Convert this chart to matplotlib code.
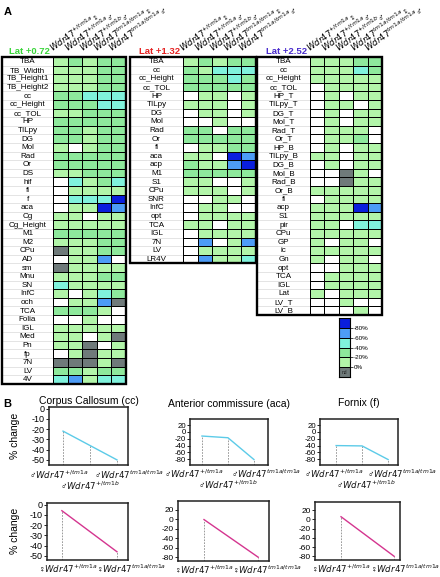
import matplotlib
matplotlib.use('Agg')
import matplotlib.pyplot as plt
from matplotlib.colors import ListedColormap
from matplotlib.patches import Rectangle
import matplotlib.transforms as mtransforms
import numpy as np

plt.rcParams['font.family'] = ['Liberation Sans', 'DejaVu Sans']

# ---- data ----
col_genotypes = ['+/tm1a', '+/tm1a', '+/tm1b', 'tm1a/tm1a', 'tm1a/tm1a']
col_sexes = ['\u2640', '\u2642', '\u2642', '\u2640', '\u2642']

# W = white, L = 0/-20%, G = -20/-40%, C = -40/-60%, B = -60/-80%, D = < -80%, N = nd
rows_072 = ['TBA', 'TB_Width', 'TB_Height1', 'TB_Height2', 'cc', 'cc_Height', 'cc_TOL', 'HP',
            'TILpy', 'DG', 'Mol', 'Rad', 'Or', 'DS', 'hif', 'fi', 'f', 'aca', 'Cg', 'Cg_Height',
            'M1', 'M2', 'CPu', 'AD', 'sm', 'Mnu', 'SN', 'InfC', 'och', 'TCA', 'Folia', 'IGL',
            'Med', 'Pn', 'fp', '7N', 'LV', '4V']
cells_072 = ['LGLGG', 'LLLGG', 'LLLGG', 'LLLGG', 'GGCCC', 'GGGCC', 'LLGGG', 'GGGGG',
             'GGLGG', 'GGLGG', 'LWLGG', 'GGGGG', 'GGGGG', 'LLGGG', 'WCLGC', 'WLLLL', 'WCCCD',
             'WLLDB', 'LLWLL', 'LLLLL', 'GGGGG', 'LLLGG', 'NLLGG', 'WLLBW', 'NLLLL', 'LLLGG',
             'CLLLL', 'LWLCG', 'WLLBN', 'GGGLW', 'WWLWW', 'LLLLL', 'LLWLN', 'LLNWL', 'WLNLL',
             'NNNLN', 'GGLGG', 'CBLCC']

rows_132 = ['TBA', 'cc', 'cc_Height', 'cc_TOL', 'HP', 'TILpy', 'DG', 'Mol', 'Rad', 'Or', 'fi',
            'aca', 'acp', 'M1', 'S1', 'CPu', 'SNR', 'InfC', 'opt', 'TCA', 'IGL', '7N', 'LV', 'LR4V']
cells_132 = ['LGLGG', 'GLCCC', 'GGGCG', 'GGGGG', 'WLLWL', 'LLLWL', 'WLLWL', 'WWLWW', 'GGWGG',
             'GGGGG', 'WLLGG', 'LLWDB', 'GLLBD', 'GGGGG', 'LLWWL', 'LLLWL', 'WWLLW', 'WLLWW',
             'WLLLL', 'LLWLL', 'WLLLL', 'WBWLB', 'WLLLL', 'WBLLC']

rows_252 = ['TBA', 'cc', 'cc_Height', 'cc_TOL', 'HP_T', 'TILpy_T', 'DG_T', 'Mol_T', 'Rad_T',
            'Or_T', 'HP_B', 'TILpy_B', 'DG_B', 'Mol_B', 'Rad_B', 'Or_B', 'fi', 'acp', 'S1', 'pir',
            'CPu', 'GP', 'ic', 'Gn', 'opt', 'TCA', 'IGL', 'Lat', 'LV_T', 'LV_B']
cells_252 = ['LLLGG', 'LLLCG', 'LLLLL', 'WLLLL', 'WLWLL', 'WLLWL', 'WLWLL', 'WLWLL', 'WLLLW',
             'WLLGW', 'WLWLL', 'LLWLL', 'WLWLL', 'WWNLW', 'WWNLL', 'LLLLL', 'WLLLL', 'LLLDB',
             'LLLLL', 'LLWCC', 'LLLLL', 'LWLLW', 'LLLLL', 'LWLLW', 'WWLLL', 'WLLLL', 'WLLLL',
             'LWLLL', 'WWLWW', 'WWWLW']

legend_labels = ['0%', '-20%', '-40%', '-60%', '-80%']

titles_b = ['Corpus Callosum (cc)', 'Anterior commissure (aca)', 'Fornix (f)']
male_genotypes = ['+/tm1a', '+/tm1b', 'tm1a/tm1a']
male_cc = [-22, -36, -50]
male_aca = [-12, -17, -81]
male_f = [-40, -41, -81]
female_genotypes = ['+/tm1a', 'tm1a/tm1a']
female_cc = [-6, -46]
female_aca = [-1, -80]
female_f = [6, -80]

# ---- layout helpers ----
W, H = 440, 577
fig = plt.figure(figsize=(4.4, 5.77), dpi=100)


def box(x0, y0, x1, y1):
    return [x0 / W, 1 - y1 / H, (x1 - x0) / W, (y1 - y0) / H]


codes = {'W': 0, 'L': 1, 'G': 2, 'C': 3, 'B': 4, 'D': 5, 'N': 6}
colors = ['#ffffff', '#b2f5a9', '#8ee99c', '#80f2dc', '#4d9cf6', '#0a1edd', '#6f7a7a']
cmap = ListedColormap(colors)
TOP = 57
ROW = 8.6


def heatmap(x0, xc, x1, rows, cells, title, tcolor):
    n = len(rows)
    y1 = TOP + n * ROW
    ax = fig.add_axes(box(xc, TOP, x1, y1))
    grid = np.array([[codes[c] for c in r] for r in cells])
    ax.pcolormesh(grid, cmap=cmap, vmin=-0.5, vmax=6.5, edgecolors='black', linewidth=0.6)
    ax.set_xlim(0, 5)
    ax.set_ylim(n, 0)
    ax.axis('off')
    lab = fig.add_axes(box(x0, TOP, xc, y1))
    lab.set_xlim(0, 1)
    lab.set_ylim(n, 0)
    lab.hlines(np.arange(1, n), 0, 1, colors='#cfcfcf', lw=0.4)
    for i, r in enumerate(rows):
        lab.text(0.5, i + 0.55, r, ha='center', va='center', fontsize=5.8)
    lab.axis('off')
    fig.patches.append(Rectangle((x0 / W, 1 - y1 / H), (x1 - x0) / W, (y1 - TOP) / H,
                                 transform=fig.transFigure, fill=False, lw=1.7, ec='black'))
    fig.text((xc - 3) / W, 1 - 51 / H, title, color=tcolor, fontsize=6.8, fontweight='bold',
             ha='right', va='center')
    cw = (x1 - xc) / 5
    for j in range(5):
        lbl = r'$\mathit{Wdr47}^{' + col_genotypes[j] + '}$' + col_sexes[j]
        fig.text((xc + (j + 0.1) * cw) / W, 1 - (TOP - 3) / H, lbl, fontsize=6.2,
                 rotation=35, rotation_mode='anchor', ha='left', va='bottom')


fig.text(4 / W, 1 - 12 / H, 'A', fontsize=8, fontweight='bold', va='center')
heatmap(2, 53, 126, rows_072, cells_072, 'Lat +0.72', '#3ad63a')
heatmap(130, 183, 256, rows_132, cells_132, 'Lat +1.32', '#e52222')
heatmap(257, 310, 382, rows_252, cells_252, 'Lat +2.52', '#4a2ccd')

# legend
lax = fig.add_axes(box(339, 318, 350, 377))
lax.pcolormesh(np.array([[6], [1], [2], [3], [4], [5]]), cmap=cmap, vmin=-0.5, vmax=6.5,
               edgecolors='black', linewidth=0.5)
lax.set_xlim(0, 1)
lax.set_ylim(0, 6)
lax.set_xticks([])
lax.yaxis.tick_right()
lax.set_yticks(np.arange(1, 6))
lax.set_yticklabels(legend_labels, fontsize=4.5)
lax.tick_params(axis='y', length=2, width=0.5, pad=1)
for s in lax.spines.values():
    s.set_linewidth(0.8)
lax.text(0.5, 0.5, 'nd', ha='center', va='center', fontsize=3.5, color='#202020')

# ---- panel B ----
fig.text(3 / W, 1 - 404 / H, 'B', fontsize=8, fontweight='bold', va='center')
fig.text(15 / W, 1 - 436 / H, '% change', rotation=90, fontsize=7.5, ha='center', va='center')
fig.text(15 / W, 1 - 531 / H, '% change', rotation=90, fontsize=7.5, ha='center', va='center')


def lineplot(rect, vals, xlim, ylim, yticks, color, labels, sex, offs, rowsy,
             title=None, ty=None, tfs=6.5):
    ax = fig.add_axes(box(*rect))
    xs = np.arange(len(vals))
    ax.vlines(xs, ylim[0], vals, colors='#8a8a8a', linestyles=(0, (2, 1.5)), lw=0.6)
    ax.plot(xs, vals, color=color, lw=1.0)
    ax.set_xlim(*xlim)
    ax.set_ylim(*ylim)
    ax.set_xticks([])
    ax.set_yticks(yticks)
    ax.set_yticklabels([str(t) for t in yticks], fontsize=tfs)
    ax.tick_params(axis='y', length=2, width=0.6, pad=1)
    for s in ax.spines.values():
        s.set_linewidth(1.1)
        s.set_color('#222222')
    for x, g, dx, ry in zip(xs, labels, offs, rowsy):
        tr = mtransforms.offset_copy(ax.get_xaxis_transform(), fig=fig, x=dx, y=0, units='dots')
        ax.text(x, ry, sex + r'$\mathit{Wdr47}^{' + g + '}$', transform=tr, fontsize=6.2,
                ha='center', va='center', color='#111111')
    if title:
        fig.text(((rect[0] + rect[2]) / 2) / W, 1 - ty / H, title, fontsize=7.5,
                 ha='center', va='center')
    return ax


cyan = '#5ccbe8'
mag = '#d4358f'
m = '\u2642'
f = '\u2640'
lineplot((49, 407, 128, 465), male_cc, (-0.52, 2.41), (-55, 1.5), [0, -10, -20, -30, -40, -50],
         cyan, male_genotypes, m, [-4, 0, 12], [-0.17, -0.36, -0.17], titles_b[0], 401)
lineplot((190, 419, 268, 465), male_aca, (-0.46, 2.54), (-97, 38), [20, 0, -20, -40, -60, -80],
         cyan, male_genotypes, m, [-8, 0, 12], [-0.2, -0.42, -0.2], titles_b[1], 404, tfs=5.6)
lineplot((320, 419, 398, 465), male_f, (-0.62, 2.38), (-97, 38), [20, 0, -20, -40, -60, -80],
         cyan, male_genotypes, m, [-2, 4, 14], [-0.2, -0.42, -0.2], titles_b[2], 403, tfs=5.6)

lineplot((47, 503, 128, 560), female_cc, (-0.27, 1.2), (-54, 1.5), [0, -10, -20, -30, -40, -50],
         mag, female_genotypes, f, [6, 14], [-0.16, -0.16])
lineplot((178, 501, 269, 561), female_aca, (-0.48, 1.2), (-88, 38), [20, 0, -20, -40, -60, -80],
         mag, female_genotypes, f, [0, 9], [-0.14, -0.14], tfs=6)
lineplot((315, 502, 400, 560), female_f, (-0.49, 1.11), (-88, 38), [20, 0, -20, -40, -60, -80],
         mag, female_genotypes, f, [0, 11], [-0.16, -0.16], tfs=6)

fig.savefig('out.png', dpi=100)
